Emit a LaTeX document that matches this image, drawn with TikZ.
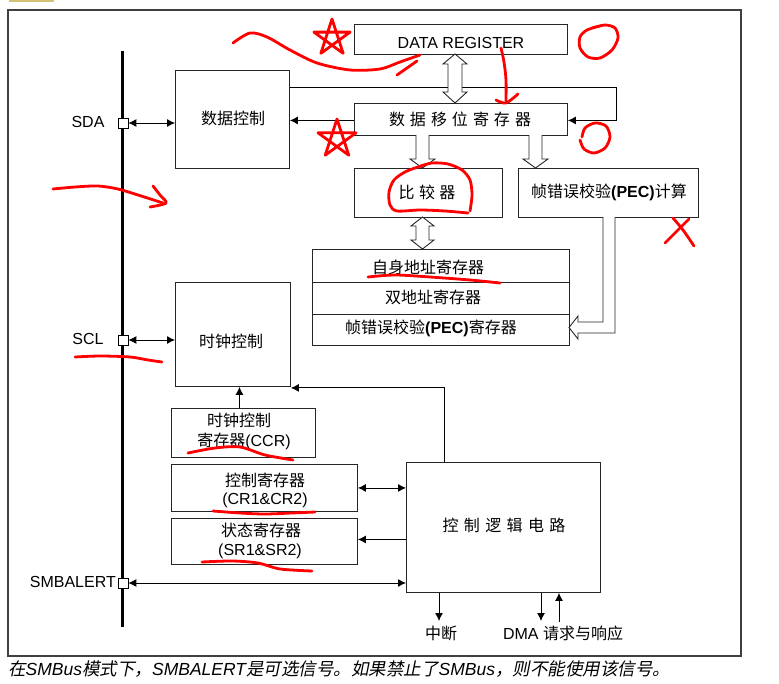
\documentclass[tikz,border=0pt]{standalone}
\usepackage{fontspec}
\setmainfont{Liberation Sans}
\newfontfamily\cjk{Noto Sans CJK SC}
\newfontfamily\cjkit[FakeSlant=0.2]{Noto Sans CJK SC}
\usetikzlibrary{arrows.meta}
\newcommand\zw[1]{{\cjk #1}}
\newcommand\zi[1]{{\cjkit #1}}
\definecolor{tabc}{HTML}{D6C074}
\begin{document}
\begin{tikzpicture}[x=1pt,y=-1pt,
  box/.style={draw=black!85, line width=0.9pt, inner sep=0pt, anchor=north west},
  sq/.style={draw=black, fill=white, line width=0.8pt, minimum size=10pt, inner sep=0pt},
  arr/.style={-{Latex[length=8pt,width=8pt]}, line width=0.9pt},
  dbl/.style={{Latex[length=8pt,width=8pt]}-{Latex[length=8pt,width=8pt]}, line width=0.9pt},
  hollow/.style={draw=black!85, fill=white, line width=0.9pt, line join=miter},
  redmark/.style={draw=red, line width=2.8pt, line cap=round, line join=round},
  txt/.style={inner sep=0pt},
  font=\fontsize{16pt}{20pt}\selectfont]

\useasboundingbox (0,0) rectangle (779,684);
\fill[white] (0,0) rectangle (779,684);
\fill[tabc] (9,0) rectangle (54,2.5);
\draw[black!75, line width=1.4pt] (8,10) rectangle (741,656);

% bus
\draw[line width=3pt] (122.5,51) -- (122.5,627);

% boxes
\node[box, minimum width=213pt, minimum height=30pt] (dr) at (354,24) {};
\node[box, minimum width=213pt, minimum height=32pt] (sr) at (354,103) {};
\node[box, minimum width=114pt, minimum height=98pt] (dc) at (175,70) {};
\node[box, minimum width=148pt, minimum height=49pt] (cmp) at (354,168) {};
\node[box, minimum width=180pt, minimum height=49pt] (pec) at (518,168) {};
\node[box, minimum width=257pt, minimum height=33pt] (own) at (312,249) {};
\node[box, minimum width=257pt, minimum height=32pt] (dual) at (312,282) {};
\node[box, minimum width=257pt, minimum height=31pt] (pecr) at (312,314) {};
\node[box, minimum width=115pt, minimum height=104pt] (clk) at (175,282) {};
\node[box, minimum width=144pt, minimum height=49pt] (ccr) at (171,408) {};
\node[box, minimum width=186pt, minimum height=47pt] (cr) at (171,464) {};
\node[box, minimum width=186pt, minimum height=46pt] (srr) at (171,518) {};
\node[box, minimum width=194pt, minimum height=130pt] (logic) at (406,462) {};

% texts
\node[txt] (drt) at (461,43) {DATA REGISTER};
\node[txt] (srt) at (460,119) {\cjk 数\kern5pt 据\kern5pt 移\kern5pt 位\kern5pt 寄\kern5pt 存\kern5pt 器};
\node[txt] (dct) at (233,118) {\zw{数据控制}};
\node[txt] (cmpt) at (427,192) {\cjk 比\kern4.5pt 较\kern4.5pt 器};
\node[txt] (pect) at (609,192) {\zw{帧错误校验}\textbf{(PEC)}\zw{计算}};
\node[txt] (ownt) at (428,267) {\zw{自身地址寄存器}};
\node[txt] (dualt) at (433,297) {\zw{双地址寄存器}};
\node[txt] (pecrt) at (431,328) {\zw{帧错误校验}\textbf{(PEC)}\zw{寄存器}};
\node[txt] (clkt) at (231,341) {\zw{时钟控制}};
\node[txt] (ccr1) at (239,420) {\zw{时钟控制}};
\node[txt] (ccr2) at (244,441.5) {\zw{寄存器}(CCR)};
\node[txt] (cr1) at (265,480) {\zw{控制寄存器}};
\node[txt] (cr2) at (265,500) {(CR1\&CR2)};
\node[txt] (sr1) at (261,530) {\zw{状态寄存器}};
\node[txt] (sr2) at (260,551.5) {(SR1\&SR2)};
\node[txt] (logict) at (504,525) {\cjk 控\kern5.4pt 制\kern5.4pt 逻\kern5.4pt 辑\kern5.4pt 电\kern5.4pt 路};
\node[txt] (intt) at (441,633) {\zw{中断}};
\node[txt] (dmat) at (563,633) {DMA \zw{请求与响应}};
\node[txt] (sdat) at (88,122) {SDA};
\node[txt] (sclt) at (88,339) {SCL};
\node[txt, anchor=east] (smbt) at (116,582) {SMBALERT};
\node[txt, anchor=west] (capt) at (8,669) {\fontsize{17.5pt}{20pt}\selectfont\itshape\zi{在}SMBus\zi{模式下，}SMBALERT\zi{是可选信号。如果禁止了}SMBus\zi{，则不能使用该信号。}};

% pins
\node[sq] (sda) at (123,123) {};
\node[sq] (scl) at (123,340) {};
\node[sq] (smb) at (123,583) {};

% connectors
\draw[dbl] (sda.east) -- (sda.east -| dc.west);
\draw[dbl] (scl.east) -- (scl.east -| clk.west);
\draw[dbl] (smb.east) -- (smb.east -| logic.west);
\coordinate (loopc) at (616,87);
\draw[arr] (dc.east |- loopc) -- (loopc) |- ([yshift=-1pt]sr.east);
\draw[arr] ([yshift=-1pt]sr.west) -- ([yshift=-1pt]sr.west -| dc.east);
\draw[arr] ([xshift=-4pt]ccr.north) -- ([xshift=-4pt]ccr.north |- clk.south);
\draw[arr] ([xshift=-59pt]logic.north) |- ([yshift=-1pt]clk.south east);
\draw[dbl] (cr.east) -- (cr.east -| logic.west);
\draw[arr] ([yshift=2pt]srr.east -| logic.west) -- ([yshift=2pt]srr.east);
\coordinate (intend) at (439,621);
\coordinate (dmad) at (541,621);
\coordinate (dmau) at (559,622);
\draw[arr] (logic.south -| intend) -- (intend);
\draw[arr] (logic.south -| dmad) -- (dmad);
\draw[arr] (dmau) -- (logic.south -| dmau);

% hollow arrows
\draw[hollow] (455,54) -- (467,64) -- (462,64) -- (462,92) -- (467,92) -- (455,103) -- (443,92) -- (448,92) -- (448,64) -- (443,64) -- cycle;
\draw[hollow] (416,135) -- (416,159) -- (410,159) -- (422.5,168) -- (435,159) -- (429,159) -- (429,135);
\draw[hollow] (529,135) -- (529,159) -- (523,159) -- (535.5,168) -- (548,159) -- (542,159) -- (542,135);
\draw[hollow] (422.5,217) -- (434,226) -- (429,226) -- (429,240) -- (434,240) -- (422.5,249) -- (411,240) -- (416,240) -- (416,226) -- (411,226) -- cycle;
\draw[hollow] (603,217) -- (603,322) -- (578,322) -- (578,316) -- (569,327.5) -- (578,339) -- (578,333) -- (615,333) -- (615,217);

% red hand-drawn marks
\draw[redmark] plot[smooth] coordinates {(233,43) (250,33) (267,37) (290,50) (317,63) (350,70) (380,69) (400,62) (420,55)};
\draw[redmark] (397,75) -- (417,61);
\begin{scope}[shift={(332,38)}]
\draw[redmark] (-90:19) -- (54:19) -- (198:19) -- (-18:19) -- (126:19) -- cycle;
\end{scope}
\begin{scope}[shift={(337,139)}]
\draw[redmark] (-90:20) -- (54:20) -- (198:20) -- (-18:20) -- (126:20) -- cycle;
\end{scope}
\draw[redmark] plot[smooth] coordinates {(592,28) (605,25) (615,28) (618,38) (612,50) (600,58) (588,57) (580,48) (580,37) (587,30) (600,26)};
\draw[redmark] plot[smooth] coordinates {(582,137) (585,128) (595,123) (606,126) (610,137) (605,148) (594,153) (584,149) (580,140)};
\draw[redmark] plot[smooth] coordinates {(501,48) (504,62) (506,80) (506,101)};
\draw[redmark] plot[smooth] coordinates {(496,100) (506,103) (518,94)};
\draw[redmark] plot[smooth] coordinates {(470,211) (472,195) (470,180) (462,170) (448,164) (432,163) (418,167) (405,172) (394,180) (389,192) (390,205) (397,211) (420,210) (445,211) (468,213)};
\draw[redmark] (665,243) -- (689,219);
\draw[redmark] plot[smooth] coordinates {(673,218) (683,230) (694,246)};
\draw[redmark] plot[smooth] coordinates {(53,189) (75,187) (98,186) (118,189) (138,195) (163,203)};
\draw[redmark] plot[smooth] coordinates {(153,186) (160,195) (166,203) (150,207)};
\draw[redmark] plot[smooth] coordinates {(75,357) (100,356) (130,357) (148,360) (162,362)};
\draw[redmark] plot[smooth] coordinates {(368,277) (395,275) (430,277) (470,280) (500,283)};
\draw[redmark] plot[smooth] coordinates {(188,453) (215,448) (240,447) (265,455) (293,460)};
\draw[redmark] plot[smooth] coordinates {(213,511) (240,513) (265,514) (292,513) (315,512)};
\draw[redmark] plot[smooth] coordinates {(202,562) (232,561) (258,563) (280,569) (312,571)};
\end{tikzpicture}
\end{document}
